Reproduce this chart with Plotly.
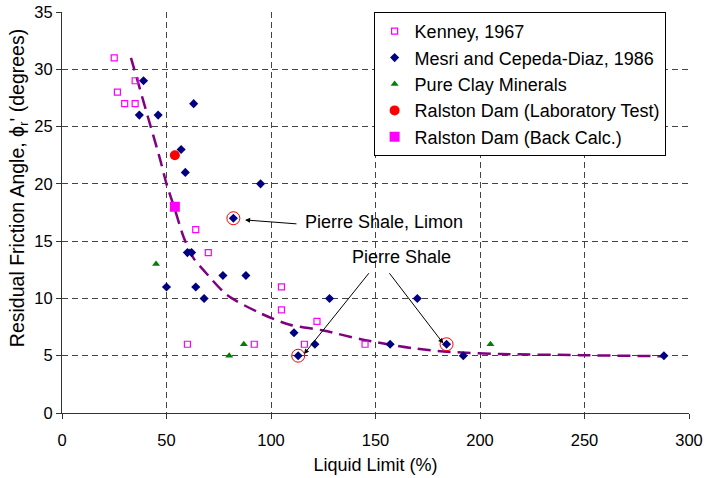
import plotly.graph_objects as go

# Kenney (1967)
kenney_ll = [25, 26.5, 30, 35, 35, 60, 64, 70, 92, 105, 105, 116, 122, 145]
kenney_phi = [31, 28, 27, 29, 27, 6, 16, 14, 6, 11, 9, 6, 8, 6]

# Mesri and Cepeda-Diaz (1986)
mesri_ll = [37, 39, 46, 63, 57, 59, 95, 82, 60, 62, 77, 88, 50, 64, 68,
            128, 170, 111, 121, 113, 157, 184, 192, 288]
mesri_phi = [26, 29, 26, 27, 23, 21, 20, 17, 14, 14, 12, 12, 11, 11, 10,
             10, 10, 7, 6, 5, 6, 6, 5, 5]

# Pure clay minerals
clay_ll = [45, 80, 87, 205]
clay_phi = [13, 5, 6, 6]

# Ralston Dam
lab_ll = [54]
lab_phi = [22.5]
back_ll = [54]
back_phi = [18]

# Pierre Shale samples (circled)
shale_ll = [82, 113, 184]
shale_phi = [17, 5, 6]

# Trend curve through the data
curve_ll = [33, 36, 41, 47, 50, 53.6, 58.4, 63, 67.6, 79, 95, 109, 125, 144,
            168, 184, 210, 248, 288]
curve_phi = [31, 29.1, 25.9, 22.1, 20, 18, 15.25, 13.5, 12.5, 10.3, 8.7, 7.7,
             7.2, 6.4, 5.65, 5.35, 5.15, 5.05, 4.95]

x_ticks = [0, 50, 100, 150, 200, 250, 300]
y_ticks = [0, 5, 10, 15, 20, 25, 30, 35]

FONT = "Liberation Sans, Arial, sans-serif"

fig = go.Figure()

fig.add_trace(go.Scatter(
    x=curve_ll, y=curve_phi, mode="lines", showlegend=False,
    line=dict(color="#800080", width=2.5, dash="13px,7px", shape="spline",
              smoothing=0.8),
    hoverinfo="skip"))

fig.add_trace(go.Scatter(
    x=kenney_ll, y=kenney_phi, mode="markers", name="Kenney, 1967",
    marker=dict(symbol="square-open", size=6, color="#FF00FF",
                line=dict(width=1.2, color="#FF00FF"))))

fig.add_trace(go.Scatter(
    x=mesri_ll, y=mesri_phi, mode="markers",
    name="Mesri and Cepeda-Diaz, 1986",
    marker=dict(symbol="diamond", size=7, color="#000080")))

fig.add_trace(go.Scatter(
    x=clay_ll, y=clay_phi, mode="markers", name="Pure Clay Minerals",
    marker=dict(symbol="triangle-up", size=7, color="#008000")))

fig.add_trace(go.Scatter(
    x=lab_ll, y=lab_phi, mode="markers",
    name="Ralston Dam (Laboratory Test)",
    marker=dict(symbol="circle", size=10, color="#FF0000")))

fig.add_trace(go.Scatter(
    x=back_ll, y=back_phi, mode="markers",
    name="Ralston Dam (Back Calc.)",
    marker=dict(symbol="square", size=10, color="#FF00FF")))

fig.add_trace(go.Scatter(
    x=shale_ll, y=shale_phi, mode="markers", showlegend=False,
    marker=dict(symbol="circle-open", size=13, color="#FF0000",
                line=dict(width=1, color="#FF0000")),
    hoverinfo="skip"))

arrow = dict(showarrow=True, arrowhead=2, arrowsize=1, arrowwidth=1,
             arrowcolor="black", axref="x", ayref="y", standoff=0,
             startstandoff=0, text="")

annotations = [
    dict(x=115.3, y=16.67, xref="x", yref="y", text="Pierre Shale, Limon",
         showarrow=False, xanchor="left", yanchor="middle",
         font=dict(family=FONT, size=18, color="black")),
    dict(x=87.6, y=16.85, ax=112.9, ay=16.5, xref="x", yref="y", **arrow),
    dict(x=162.2, y=13.6, xref="x", yref="y", text="Pierre Shale",
         showarrow=False, xanchor="center", yanchor="middle",
         font=dict(family=FONT, size=18, color="black")),
    dict(x=115.8, y=5.15, ax=147.4, ay=12.33, xref="x", yref="y", **arrow),
    dict(x=182.4, y=6.08, ax=156.1, ay=12.33, xref="x", yref="y", **arrow),
    # y-axis title
    dict(x=-0.07, y=0.561, xref="paper", yref="paper",
         text="Residual Friction Angle, ϕ<sub>r</sub>' (degrees)",
         textangle=-90, showarrow=False, xanchor="center", yanchor="middle",
         font=dict(family=FONT, size=19.5, color="black")),
]

fig.update_layout(
    width=706, height=478,
    margin=dict(l=62, r=17, t=12, b=65),
    paper_bgcolor="white", plot_bgcolor="white",
    font=dict(family=FONT, size=16, color="black"),
    annotations=annotations,
    legend=dict(
        x=0.497, y=1.0, xanchor="left", yanchor="top",
        bgcolor="white", bordercolor="black", borderwidth=1,
        font=dict(family=FONT, size=18, color="black"),
        tracegroupgap=0,
    ),
    xaxis=dict(
        range=[0, 300], tickvals=x_ticks, ticks="outside", ticklen=5,
        tickcolor="#333", showline=True, linecolor="#333", linewidth=1,
        showgrid=True, gridcolor="#444", griddash="6px,4px", gridwidth=1,
        zeroline=False, tickfont=dict(size=16.5), automargin=False,
        ticklabelstandoff=7,
        title=dict(text="Liquid Limit (%)", font=dict(size=18), standoff=10),
    ),
    yaxis=dict(
        range=[0, 35], tickvals=y_ticks, ticks="outside", ticklen=5,
        tickcolor="#333", showline=True, linecolor="#333", linewidth=1,
        showgrid=True, gridcolor="#444", griddash="6px,4px", gridwidth=1,
        zeroline=False, tickfont=dict(size=16.5), automargin=False,
    ),
)

fig.write_html("out.html")
